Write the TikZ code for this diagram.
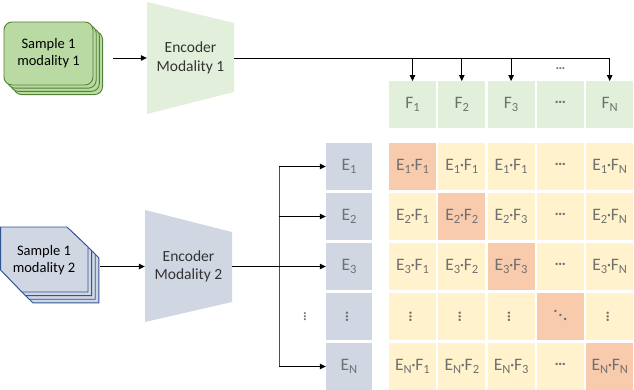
\documentclass[tikz,border=0pt]{standalone}
\usepackage{graphicx}
\usepackage{fontspec}
\setmainfont{Carlito}
\usetikzlibrary{arrows.meta}
\definecolor{featGreen}{RGB}{226, 239, 218}
\definecolor{sampGreen}{RGB}{185, 218, 162}
\definecolor{lineGreen}{RGB}{84, 130, 53}
\definecolor{embBlue}{RGB}{208, 214, 226}
\definecolor{lineBlue}{RGB}{47, 85, 151}
\definecolor{prodYellow}{RGB}{255, 242, 204}
\definecolor{diagOrange}{RGB}{248, 203, 173}
\definecolor{labelGray}{RGB}{112, 112, 112}
\newcommand{\sbs}[1]{\raisebox{-0.35ex}{\fontsize{12.5}{13}\selectfont #1}}
\newcommand{\pr}[2]{E\sbs{#1}\kern-0.4pt·\kern-0.4pt F\sbs{#2}}
\newcommand{\hd}{{\bfseries\fontsize{16}{16}\selectfont\raisebox{0.25em}{…}}}
\newcommand{\vd}{\rotatebox{90}{\hd}}
\newcommand{\dd}{{\bfseries\fontsize{16}{16}\selectfont\raisebox{0.6em}{.}\kern0.5pt\raisebox{0.35em}{.}\kern0.5pt\raisebox{0.1em}{.}}}

\begin{document}
\begin{tikzpicture}[x=1pt, y=-1pt,
    arr/.style={line width=0.8pt, -{Triangle[length=6pt, width=5.5pt]}},
    box/.style={minimum width=47, minimum height=46.5, inner sep=0pt,
                text=labelGray, font=\fontsize{17.5}{20}\selectfont},
    featcell/.style={box, fill=featGreen},
    embcell/.style={box, fill=embBlue, minimum width=46},
    prodcell/.style={box, fill=prodYellow},
    diagcell/.style={box, fill=diagOrange},
    enctext/.style={align=center, minimum width=87, inner sep=0pt,
                    text={black!80}, font=\fontsize{15.5}{18.5}\selectfont},
    samptext/.style={align=center, inner sep=0pt, font=\fontsize{14.5}{17}\selectfont}]
  \useasboundingbox (0,0) rectangle (634,390);

  % sample of modality 1 (stacked cards)
  \foreach \o in {3,2,1,0}
    \filldraw[fill=sampGreen, draw=lineGreen, line width=0.9pt, rounded corners=8pt]
      (4+3.2*\o,22+3.2*\o) rectangle +(89,63);
  \node[samptext] (samp1) at (48.5,53.5) {Sample 1\\modality 1};

  % sample of modality 2 (stacked cut cards)
  \foreach \o in {3,2,1,0}
    \filldraw[fill=embBlue, draw=lineBlue, line width=0.9pt, shift={(3.6*\o,3.6*\o)}]
      (0.6,227) -- (67,227) -- (88,247) -- (88,292) -- (22,292) -- (0.6,270) -- cycle;
  \node[samptext] (samp2) at (44,260) {Sample 1\\modality 2};

  % encoders
  \fill[featGreen] (147,2) -- (234,23) -- (234,92) -- (147,114) -- cycle;
  \node[enctext] (enc1) at (190.5,58) {Encoder\\Modality 1};
  \fill[embBlue] (145,210) -- (232,232) -- (232,302) -- (145,322) -- cycle;
  \node[enctext] (enc2) at (188.5,266.5) {Encoder\\Modality 2};

  \coordinate (in1) at (113,58);
  \coordinate (in2) at (100,266.5);
  \draw[arr] (in1) -- (enc1.west);
  \draw[arr] (in2) -- (enc2.west);

  % feature row
  \foreach \n/\t [count=\j from 0] in {F1/{F\sbs{1}}, F2/{F\sbs{2}}, F3/{F\sbs{3}}, Fc/{\hd}, FN/{F\sbs{N}}}
    \node[featcell] (\n) at (412.5+49.3*\j,104.5) {\t};
  \node[text=labelGray, inner sep=0pt, scale=0.85] (fdots) at (Fc.north |- 0,70) {\hd};

  \draw[arr] (enc1.east) -| (FN.north);
  \foreach \n in {F1,F2,F3}
    \draw[arr] (\n.north |- enc1.east) -- (\n.north);

  % embedding column
  \foreach \n/\t [count=\i from 0] in {E1/{E\sbs{1}}, E2/{E\sbs{2}}, E3/{E\sbs{3}}, Ev/{\vd}, EN/{E\sbs{N}}}
    \node[embcell] (\n) at (349,166.5+50*\i) {\t};

  \coordinate (busT) at (279,166.5);
  \coordinate (busB) at (279,366.5);
  \draw[line width=0.6pt, black!70] (busT) -- (busB);
  \foreach \n in {1,2,N}
    \draw[arr] (busT |- E\n.west) -- (E\n.west);
  \draw[arr] (enc2.east) -- (E3.west);
  \node[text=labelGray, inner sep=0pt, scale=0.85] (edots) at (306.5,316.5) {\vd};

  % similarity matrix
  \foreach \t/\s [count=\j from 0] in {{\pr11}/diagcell, {\pr11}/prodcell, {\pr11}/prodcell, {\hd}/prodcell, {\pr1N}/prodcell}
    \node[\s] (m1\j) at (412.5+49.3*\j,166.5) {\t};
  \foreach \t/\s [count=\j from 0] in {{\pr21}/prodcell, {\pr22}/diagcell, {\pr23}/prodcell, {\hd}/prodcell, {\pr2N}/prodcell}
    \node[\s] (m2\j) at (412.5+49.3*\j,216.5) {\t};
  \foreach \t/\s [count=\j from 0] in {{\pr31}/prodcell, {\pr32}/prodcell, {\pr33}/diagcell, {\hd}/prodcell, {\pr3N}/prodcell}
    \node[\s] (m3\j) at (412.5+49.3*\j,266.5) {\t};
  \foreach \t/\s [count=\j from 0] in {{\vd}/prodcell, {\vd}/prodcell, {\vd}/prodcell, {\dd}/diagcell, {\vd}/prodcell}
    \node[\s] (mv\j) at (412.5+49.3*\j,316.5) {\t};
  \foreach \t/\s [count=\j from 0] in {{\pr N1}/prodcell, {\pr N2}/prodcell, {\pr N3}/prodcell, {\hd}/prodcell, {\pr NN}/diagcell}
    \node[\s] (mN\j) at (412.5+49.3*\j,366.5) {\t};
\end{tikzpicture}
\end{document}
